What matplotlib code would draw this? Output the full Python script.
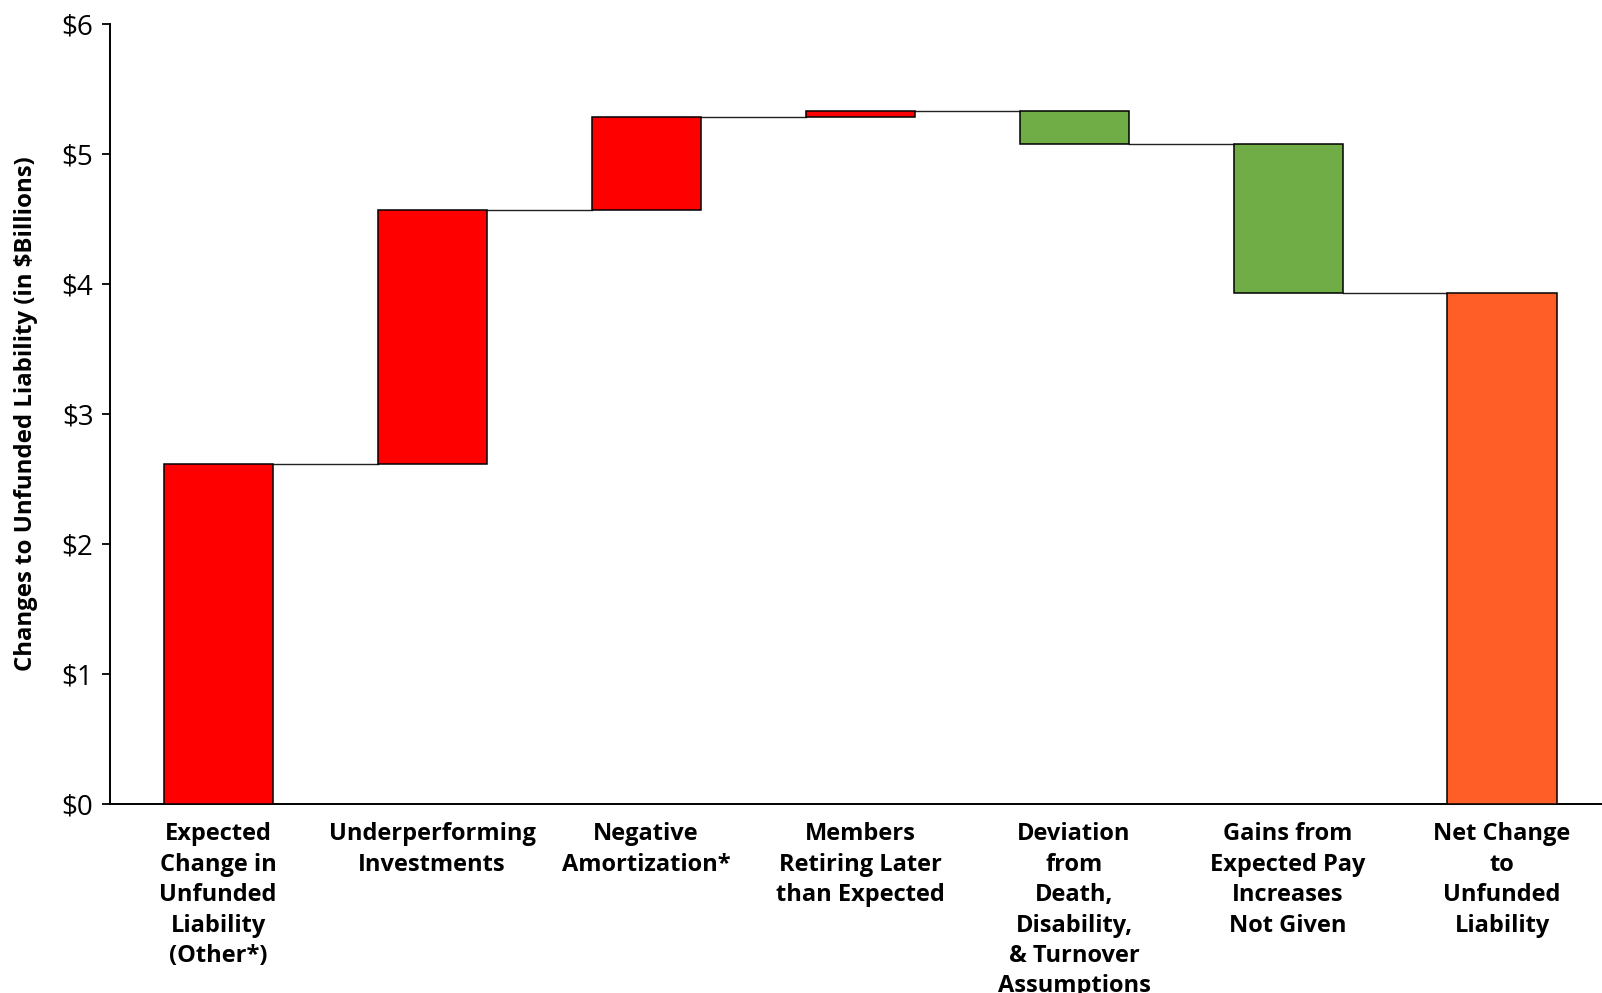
import numpy as np
import matplotlib.pyplot as plt

labels = ["Expected\nChange in\nUnfunded\nLiability\n(Other*)",
          "Underperforming\nInvestments",
          "Negative\nAmortization*",
          "Members\nRetiring Later\nthan Expected",
          "Deviation\nfrom\nDeath,\nDisability,\n& Turnover\nAssumptions",
          "Gains from\nExpected Pay\nIncreases\nNot Given",
          "Net Change\nto\nUnfunded\nLiability"]
changes = [2.62, 1.95, 0.71, 0.05, -0.25, -1.15]
colors = ["#FF0000", "#FF0000", "#FF0000", "#FF0000", "#70AD47", "#70AD47", "#FF5F27"]
yticks = [0, 1, 2, 3, 4, 5, 6]

plt.rcParams['font.family'] = ['Open Sans', 'DejaVu Sans']

ends = np.cumsum(changes)
starts = ends - np.array(changes)
total = ends[-1]
bottoms = list(np.minimum(starts, ends)) + [0]
heights = list(np.abs(changes)) + [total]

fig = plt.figure(figsize=(16.02, 9.93), dpi=100)
ax = fig.add_axes([0.0687, 0.190, 0.9313, 0.786])

x = np.arange(len(labels))
w = 0.51
ax.bar(x, heights, bottom=bottoms, width=w, color=colors,
       edgecolor='black', linewidth=1.1, zorder=3)

# connectors between bars
levels = list(ends)
for i in range(len(levels)):
  ax.plot([x[i] + w/2, x[i+1] - w/2], [levels[i], levels[i]],
          color='#222222', linewidth=1.0, zorder=2)

ax.set_xlim(-0.505, 6.467)
ax.set_ylim(0, 6)
ax.set_yticks(yticks)
ax.set_yticklabels(["$%d" % v for v in yticks], fontsize=20)
ax.set_xticks(x)
ax.set_xticklabels(labels, fontsize=17, fontweight='bold', linespacing=1.355, va='top')
ax.tick_params(axis='x', length=0, pad=13)
ax.tick_params(axis='y', length=6, width=1.3, pad=6)
for s in ['top', 'right']:
  ax.spines[s].set_visible(False)
for s in ['left', 'bottom']:
  ax.spines[s].set_linewidth(1.4)

fig.text(0.016, 0.583, "Changes to Unfunded Liability (in $Billions)", rotation=90,
         fontsize=17.3, fontweight='bold', va='center', ha='center')

fig.savefig("out.png", dpi=100)
